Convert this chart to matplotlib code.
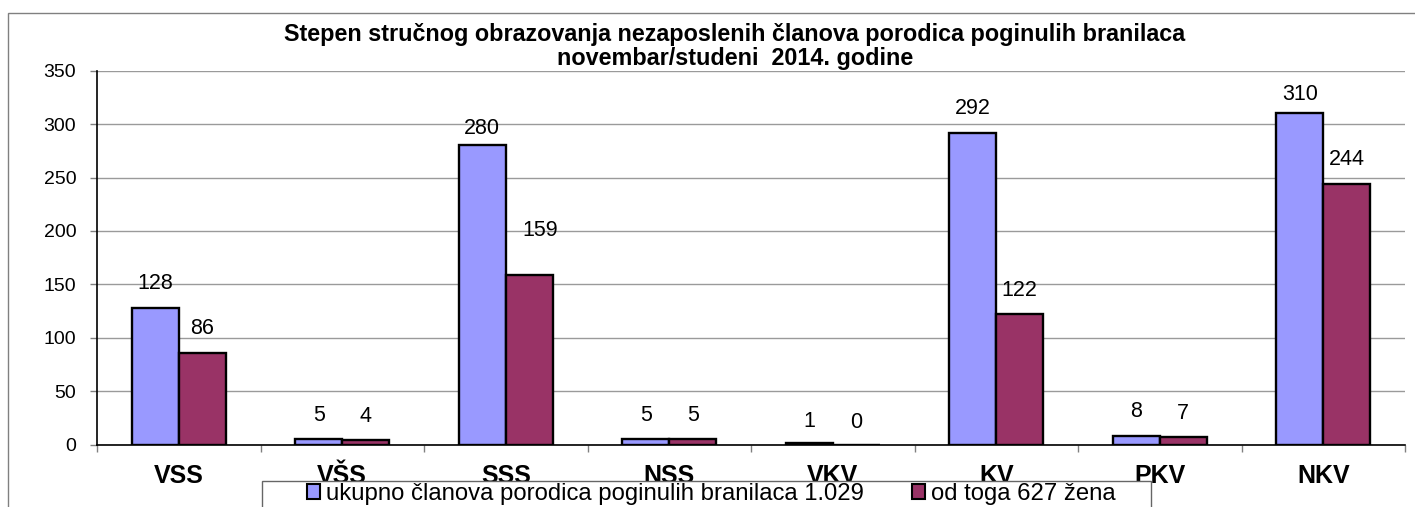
import matplotlib
matplotlib.use("Agg")
import matplotlib.pyplot as plt
from matplotlib.patches import Patch, Rectangle
import numpy as np

plt.rcParams['font.family'] = ['Liberation Sans', 'DejaVu Sans']

categories = ["VSS", "VŠS", "SSS", "NSS", "VKV", "KV", "PKV", "NKV"]
ukupno = [128, 5, 280, 5, 1, 292, 8, 310]
zene = [86, 4, 159, 5, 0, 122, 7, 244]
series_names = ["ukupno članova porodica poginulih branilaca 1.029",
                "od toga 627 žena"]
title_lines = ["Stepen stručnog obrazovanja nezaposlenih članova porodica poginulih branilaca",
               "novembar/studeni  2014. godine"]
yticks = [0, 50, 100, 150, 200, 250, 300, 350]

# label nudges in pixels (dx, dy) for each bar
off_u = [(0, 24), (0, 24), (0, 17), (0, 24), (0, 22), (0, 24), (0, 24), (0, 19)]
off_z = [(0, 24), (0, 24), (11, 44), (0, 24), (0, 22), (0, 24), (0, 24), (0, 24)]

W, H = 1415, 507
fig = plt.figure(figsize=(W / 100, H / 100), dpi=100)

# outer chart frame
fig.patches.append(Rectangle((8 / W, -0.1), 1.2, 1 - 13 / H + 0.1, transform=fig.transFigure,
                             fill=False, edgecolor='#808080', linewidth=1.0, zorder=0))

ax_l, ax_r, ax_t, ax_b = 97, 1405, 70.7, 444.5
ax = fig.add_axes([ax_l / W, 1 - ax_b / H, (ax_r - ax_l) / W, (ax_b - ax_t) / H])

blue = '#9999FF'
maroon = '#993366'
x = np.arange(len(categories))
w = 0.2875
ax.bar(x - w / 2, ukupno, w, color=blue, edgecolor='black', linewidth=1.7, zorder=3)
ax.bar(x + w / 2, zene, w, color=maroon, edgecolor='black', linewidth=1.7, zorder=3)

for xi, v, (dx, dy) in zip(x - w / 2, ukupno, off_u):
    ax.annotate(str(v), (xi, v), xytext=(dx, dy), textcoords='offset pixels',
                ha='center', va='center', fontsize=15.5, zorder=5)
for xi, v, (dx, dy) in zip(x + w / 2, zene, off_z):
    ax.annotate(str(v), (xi, v), xytext=(dx, dy), textcoords='offset pixels',
                ha='center', va='center', fontsize=15.5, zorder=5)

ax.set_xlim(-0.5, len(categories) - 0.5)
ax.set_ylim(0, 350)
ax.set_yticks(yticks)
ax.set_yticklabels([str(t) for t in yticks], fontsize=14)
ax.yaxis.grid(True, color='#9a9a9a', linewidth=1.0, zorder=0)
ax.set_axisbelow(True)

ax.set_xticks(x)
ax.set_xticklabels(categories, fontsize=18, fontweight='bold')
ax.set_xticks(np.arange(-0.5, len(categories) + 0.5, 1), minor=True)
ax.tick_params(axis='x', which='major', length=0, pad=14)
ax.tick_params(axis='x', which='minor', length=5, color='#808080', width=1)
ax.tick_params(axis='y', length=5, color='#808080', width=1, pad=10)

for s in ['top', 'right']:
    ax.spines[s].set_visible(False)
ax.spines['left'].set_color('black')
ax.spines['bottom'].set_color('black')
ax.spines['left'].set_linewidth(1.2)
ax.spines['bottom'].set_linewidth(1.2)

# title
fig.text(735 / W, 1 - 35 / H, title_lines[0], ha='center', va='center',
         fontsize=16.8, fontweight='bold')
fig.text(735 / W, 1 - 58 / H, title_lines[1], ha='center', va='center',
         fontsize=16.8, fontweight='bold')

# legend frame
fig.patches.append(Rectangle((262 / W, -0.1), (1151 - 262) / W, 0.1 + 1 - 481 / H,
                             transform=fig.transFigure, facecolor='white',
                             edgecolor='#666666', linewidth=1.0, zorder=4))
handles = [Patch(facecolor=blue, edgecolor='black', linewidth=1.5),
           Patch(facecolor=maroon, edgecolor='black', linewidth=1.5)]
leg = fig.legend(handles, series_names, loc='center left',
                 bbox_to_anchor=(307 / W, 1 - 494 / H), ncol=2, frameon=False,
                 fontsize=17.2, handlelength=0.55, handleheight=0.55,
                 handletextpad=0.25, columnspacing=2.0, borderpad=0, borderaxespad=0)
leg.set_zorder(6)

fig.savefig("out.png", dpi=100)
